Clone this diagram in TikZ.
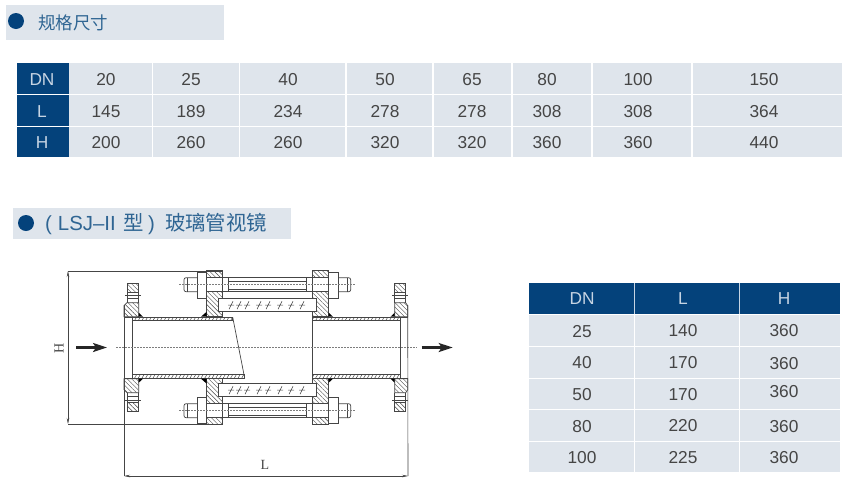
\documentclass[tikz,border=0pt]{standalone}
\usepackage{fontspec}
\setmainfont{Liberation Sans}
\newfontfamily\cjk{Noto Sans CJK SC}
\newfontfamily\dimfont{Liberation Serif}
\usetikzlibrary{arrows.meta,patterns.meta}
\definecolor{navy}{HTML}{04427B}
\definecolor{cellgrey}{HTML}{DFE5EC}
\definecolor{numgrey}{HTML}{454545}
\definecolor{headtxt}{HTML}{C6D4E3}
\definecolor{titleblue}{HTML}{2F6593}
\definecolor{inkgrey}{HTML}{454545}
\tikzset{
  numtext/.style={inner sep=0pt,yshift=-.7pt,text=numgrey,font=\fontsize{17.3}{19}\selectfont},
  headtext/.style={inner sep=0pt,yshift=-.7pt,text=headtxt,font=\fontsize{17.3}{19}\selectfont},
  titletext/.style={inner sep=0pt,text=titleblue},
  part/.style={draw=inkgrey,line width=.7pt},
  hatched/.style={part,pattern={Lines[angle=135,distance=3.2pt,line width=.4pt]},pattern color=inkgrey},
  wall/.style={part,pattern={Lines[angle=60,distance=3.2pt,line width=.5pt]},pattern color=inkgrey},
  axisline/.style={draw=inkgrey!70,line width=.5pt,dash pattern=on 2pt off 1pt},
  dimline/.style={draw=inkgrey,line width=.6pt},
  flow/.style={draw=black!85,line width=2.2pt,-{Stealth[length=14pt,width=9pt,inset=3pt]}}
}
\begin{document}
\begin{tikzpicture}[x=1pt,y=-1pt]
    \useasboundingbox (0,0) rectangle (850,496);
    % section titles
    \fill[cellgrey] (6,5) rectangle (224,40);
    \fill[navy] (16,21) circle (8);
    \node[titletext,anchor=west,font=\cjk\fontsize{17.5}{20}\selectfont] (titleA) at (38,23) {规格尺寸};
    \fill[cellgrey] (13,208) rectangle (291,239);
    \fill[navy] (26,223) circle (8);
    \node[titletext,anchor=west,font=\fontsize{20.4}{22}\selectfont] (titleB) at (45,224) {(\hspace{6pt}LSJ--II\hspace{8pt}{\cjk 型}\hspace{4pt})\hspace{10pt}{\cjk 玻璃管视镜}};
    % size table
    \fill[navy] (17,63) rectangle (68.5,157);
    \draw[white,line width=1pt] (17,94) -- (68.5,94) (17,126) -- (68.5,126);
    \node[headtext] (dnA) at (42,79) {DN};
    \node[headtext] (lA) at (42,111) {L};
    \node[headtext] (hA) at (42,142) {H};
    \foreach \l/\r/\m/\a/\b/\c in {68.5/152.5/106/20/145/200,152.5/239.5/191/25/189/260,
      239.5/346/288/40/234/260,346/433/385/50/278/320,433/512/472/65/278/320,
      512/592/547/80/308/360,592/692/638/100/308/360,692/843/764/150/364/440}{
        \fill[cellgrey] (\l+.6,63) rectangle (\r-.6,93.5);
        \fill[cellgrey] (\l+.6,94.5) rectangle (\r-.6,125.5);
        \fill[cellgrey] (\l+.6,126.5) rectangle (\r-.6,157);
        \node[numtext] (a\a) at (\m,79) {\a};
        \node[numtext] (b\a) at (\m,110.5) {\b};
        \node[numtext] (c\a) at (\m,142) {\c};
    }
    % model table
    \fill[navy] (529,283) rectangle (840,314);
    \draw[headtxt,line width=.7pt] (634,283) -- (634,314) (739,283) -- (739,314);
    \node[headtext] (dnB) at (582,298) {DN};
    \node[headtext] (lB) at (683,298) {L};
    \node[headtext] (hB) at (784,298) {H};
    \foreach \t/\u in {315/345.5,346.5/377.5,378.5/408.5,409.5/440.5,441.5/472}{
        \fill[cellgrey] (529,\t) rectangle (633.5,\u);
        \fill[cellgrey] (634.5,\t) rectangle (738.5,\u);
        \fill[cellgrey] (739.5,\t) rectangle (840,\u);
    }
    \foreach \i/\d/\dy/\l/\ly/\h/\hy in {1/25/331/140/330/360/330,2/40/362/170/362/360/363,
      3/50/394/170/394/360/391,4/80/426/220/425/360/426,5/100/457/225/457/360/457}{
        \node[numtext] (dn\i) at (582,\dy) {\d};
        \node[numtext] (len\i) at (683,\ly) {\l};
        \node[numtext] (hgt\i) at (784,\hy) {\h};
    }
    % both halves of the sight glass
    \foreach \s/\e in {1/232.7,-1/244.3}{
    \begin{scope}[shift={(0,347.7)},y=\s*1pt]
        % pipe walls
        \draw[wall] (132,27) rectangle (\e,30.5);
        \draw[wall] (312.7,27) rectangle (400,30.5);
        \draw[part] (124,30.5) -- (132,30.5) (400,30.5) -- (407.7,30.5);
        % small flanges
        \draw[hatched] (124,31) -- (124,42) -- (127,45) -- (138.7,45) -- (138.7,31) -- cycle;
        \draw[hatched] (127,55) -- (127,64) -- (138,64) -- (138,55) -- cycle;
        \draw[part] (127,55) -- (127,45) (138,55) -- (138,45);
        \draw[part,line width=.5pt] (125,52.5) -- (141,52.5) (127,49) -- (138,49);
        \draw[hatched] (407.7,31) -- (407.7,42) -- (405.7,45) -- (394.7,45) -- (394.7,31) -- cycle;
        \draw[hatched] (394.7,55) -- (394.7,64) -- (405.7,64) -- (405.7,55) -- cycle;
        \draw[part] (394.7,55) -- (394.7,45) (405.7,55) -- (405.7,45);
        \draw[part,line width=.5pt] (392,52.5) -- (408,52.5) (394.7,49) -- (405.7,49);
        % large flanges
        \draw[hatched] (206.7,70) rectangle (222.7,77);
        \draw[hatched] (206.7,56) -- (222.7,56) -- (222.7,49) -- (218.3,49) -- (218.3,36) -- (222.7,36) -- (222.7,31) -- (206.7,31) -- cycle;
        \draw[hatched] (312.7,70) rectangle (328.7,77);
        \draw[hatched] (328.7,56) -- (312.7,56) -- (312.7,49) -- (316,49) -- (316,36) -- (312.7,36) -- (312.7,31) -- (328.7,31) -- cycle;
        % welds
        \fill[black] (201,31) -- (206.7,31) -- (206.7,36) -- cycle;
        \fill[black] (138.7,31) -- (143,31) -- (138.7,35) -- cycle;
        \fill[black] (328.7,31) -- (333,31) -- (328.7,35) -- cycle;
        \fill[black] (394.7,31) -- (390.5,31) -- (394.7,35) -- cycle;
        % bolts
        \draw[part] (197,49.7) rectangle (206.7,75.7);
        \draw[part,rounded corners=2pt] (197,70) -- (184,70) -- (184,56) -- (197,56);
        \draw[part] (187,70) -- (187,56);
        \draw[part] (222.7,70) rectangle (228,56);
        \draw[part] (206.7,70) -- (306.7,70) (206.7,56) -- (306.7,56);
        \draw[part,line width=.4pt] (228,67) -- (306.7,67) (228,59) -- (306.7,59);
        \draw[part] (306.7,70) rectangle (312.7,56);
        \draw[part] (312.7,70) -- (328.7,70) (312.7,56) -- (328.7,56);
        \draw[part] (328.7,49.7) rectangle (338,75.7);
        \draw[part,rounded corners=2pt] (338,70) -- (350.7,70) -- (350.7,56) -- (338,56);
        \draw[part] (347.7,70) -- (347.7,56);
        \draw[axisline] (179,63) -- (355,63);
        % glass tube
        \draw[part] (218.3,36) rectangle (316,49);
        \foreach \g in {231,239,247,259,268,280,291,302}{
            \draw[part,line width=.5pt] (\g-2,42.5-4*\s) -- (\g+2,42.5+4*\s) (\g-3,42.5) -- (\g+3,42.5);
        }
    \end{scope}
    }
    % pipe ends
    \coordinate (slantT) at (232.7,317.2);
    \coordinate (slantB) at (244.7,378.2);
    \draw[part] (slantT) -- (slantB);
    \draw[part] (132,317.2) -- (132,378.2);
    \draw[part] (312.7,317.2) -- (312.7,378.2);
    \draw[part] (400,317.2) -- (400,378.2);
    % axis and flow arrows
    \coordinate (axisL) at (116,347.7);
    \coordinate (axisR) at (417,347.7);
    \draw[axisline] (axisL) -- (axisR);
    \coordinate (inS) at (76,347.5);
    \coordinate (inE) at (107,347.5);
    \coordinate (outS) at (421.7,347.5);
    \coordinate (outE) at (452.7,347.5);
    \draw[flow] (inS) -- (inE);
    \draw[flow] (outS) -- (outE);
    % dimensions
    \coordinate (hTop) at (68,271);
    \coordinate (hBot) at (68,424);
    \coordinate (lLeft) at (124,476);
    \coordinate (lRight) at (408,476);
    \draw[dimline] (hTop) -- (222.7,271);
    \draw[dimline] (hBot) -- (222.7,424);
    \draw[dimline,{Stealth[length=6pt,width=2.5pt]}-{Stealth[length=6pt,width=2.5pt]}] (hTop) -- (hBot);
    \draw[dimline] (124,305) -- (lLeft);
    \draw[dimline] (407.7,305) -- (lRight);
    \draw[dimline,{Stealth[length=6pt,width=2.5pt]}-{Stealth[length=6pt,width=2.5pt]}] (lLeft) -- (lRight);
    \node[inner sep=0pt,text=inkgrey,font=\dimfont\fontsize{14}{15}\selectfont] (lbl) at (265,465) {L};
    \node[inner sep=0pt,text=inkgrey,rotate=90,font=\dimfont\fontsize{14}{15}\selectfont] (hbl) at (59,348) {H};
\end{tikzpicture}
\end{document}
